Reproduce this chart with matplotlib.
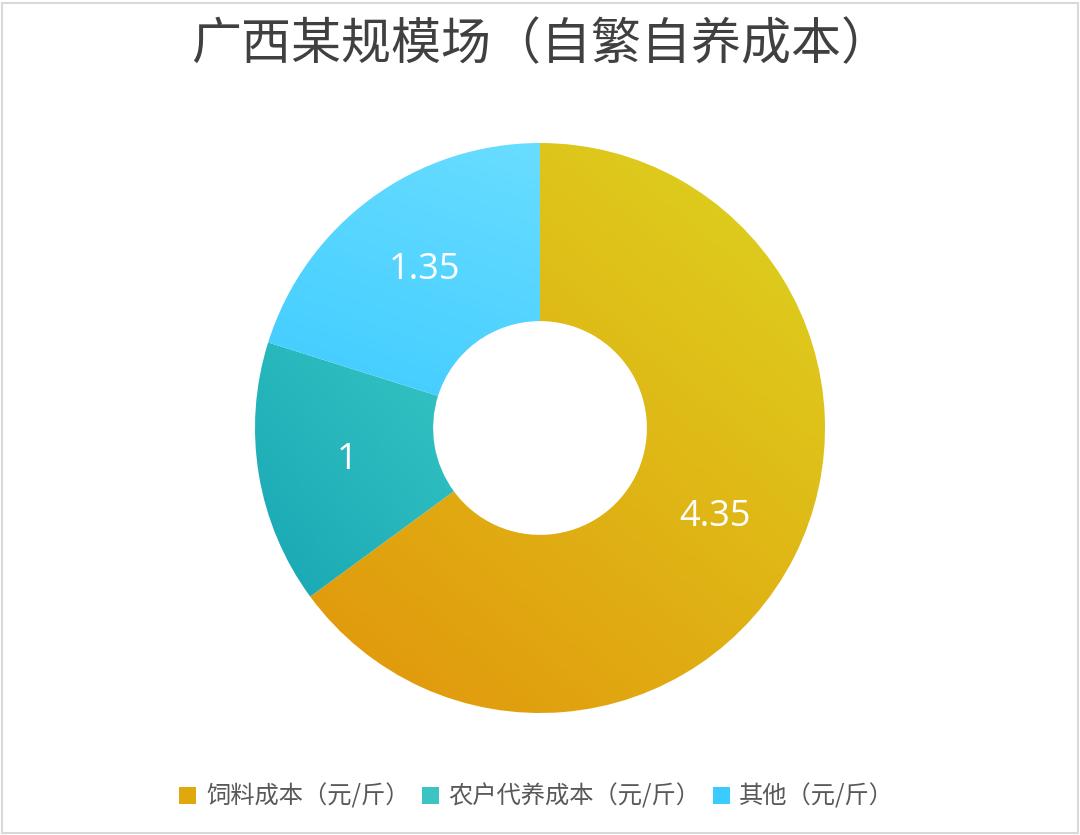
import numpy as np
import matplotlib
matplotlib.use("Agg")
import matplotlib.pyplot as plt
from matplotlib.colors import LinearSegmentedColormap
from matplotlib.patches import Rectangle

plt.rcParams['font.family'] = ['Noto Sans CJK SC', 'DejaVu Sans']

# ===============================
# 数据
# ===============================
title = "广西某规模场（自繁自养成本）"
labels = ["饲料成本（元/斤）", "农户代养成本（元/斤）", "其他（元/斤）"]
values = [4.35, 1, 1.35]
value_text = ["4.35", "1", "1.35"]

# 渐变色: (起点色, 终点色, 渐变方向角度)
grads = [
    ("#E2920A", "#DDD420", 50),
    ("#12A0B0", "#5AECD8", 40),
    ("#1CBCFF", "#74E2FF", 70),
]
legend_colors = ["#E0A80C", "#3CC4C4", "#3ACBFF"]

W, H, DPI = 1080, 835, 100
fig = plt.figure(figsize=(W / DPI, H / DPI), dpi=DPI)
fig.patch.set_facecolor("white")

# 外框
fig.add_artist(Rectangle((0.002, 0.002), 0.996, 0.995, transform=fig.transFigure,
                         fill=False, edgecolor="#D9D9D9", linewidth=1.5))

# 圆环位置: 中心 (540, 428)，半径 285 px
cx, cy, r = 540, 428, 285
ax = fig.add_axes([(cx - r) / W, (H - cy - r) / H, 2 * r / W, 2 * r / H])

inner = 0.375
wedges, _ = ax.pie(values, startangle=90, counterclock=False, radius=1,
                   wedgeprops=dict(width=1 - inner, linewidth=0),
                   frame=True)
ax.set_xlim(-1, 1)
ax.set_ylim(-1, 1)
ax.set_aspect("equal")
ax.axis("off")

# 渐变填充
n = 300
xs = np.linspace(-1, 1, n)
X, Y = np.meshgrid(xs, xs)
for w, (c0, c1, ang) in zip(wedges, grads):
    a = np.deg2rad(ang)
    t = X * np.cos(a) + Y * np.sin(a)
    t = (t - t.min()) / (t.max() - t.min())
    cmap = LinearSegmentedColormap.from_list("g", [c0, c1])
    w.set_facecolor("none")
    im = ax.imshow(t, cmap=cmap, extent=(-1, 1, -1, 1), origin="lower",
                   interpolation="bilinear", zorder=1)
    im.set_clip_path(w)

# 数值标签
total = sum(values)
start = 90.0
mid_r = (1 + inner) / 2
for v, txt in zip(values, value_text):
    span = 360.0 * v / total
    mid = np.deg2rad(start - span / 2)
    ax.text(mid_r * np.cos(mid), mid_r * np.sin(mid), txt, color="white",
            fontsize=26, ha="center", va="center", zorder=3,
            family=["Open Sans", "DejaVu Sans"])
    start -= span

# 标题
fig.text(0.501, 1 - 45 / H, title, ha="center", va="center",
         fontsize=36, color="#404040")

# 图例
handles = [Rectangle((0, 0), 1, 1, facecolor=c, edgecolor="none") for c in legend_colors]
fig.legend(handles, labels, loc="center", bbox_to_anchor=(0.497, 1 - 797 / H),
           ncol=3, frameon=False, fontsize=17.5, labelcolor="#595959",
           handlelength=0.7, handleheight=0.7, handletextpad=0.4,
           columnspacing=0.5)

fig.savefig("out.png", dpi=DPI, facecolor="white")
